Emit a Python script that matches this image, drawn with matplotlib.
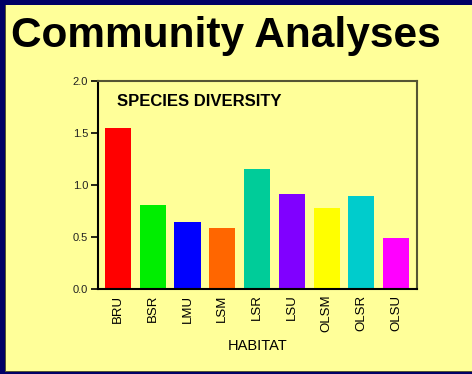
import matplotlib
matplotlib.use("Agg")
import matplotlib.pyplot as plt
from matplotlib.patches import Rectangle

plt.rcParams['font.family'] = ['Liberation Sans', 'DejaVu Sans']

habitats = ["BRU", "BSR", "LMU", "LSM", "LSR", "LSU", "OLSM", "OLSR", "OLSU"]
diversity = [1.55, 0.81, 0.645, 0.59, 1.155, 0.915, 0.78, 0.895, 0.49]
bar_colors = ["#FF0000", "#00EE00", "#0000FF", "#FF6600", "#00CC99",
              "#8000FF", "#FFFF00", "#00CCCC", "#FF00FF"]
y_ticks = [0.0, 0.5, 1.0, 1.5, 2.0]

W, H = 472, 374
fig = plt.figure(figsize=(W / 100, H / 100), dpi=100, facecolor="#000066")

# slide panel
fig.patches.append(Rectangle((5 / W, 2 / H), 1, 1 - 7 / H, transform=fig.transFigure,
                             facecolor="#555533", edgecolor="none", zorder=-2))
fig.patches.append(Rectangle((6 / W, 3.5 / H), 1, 1 - 8.5 / H, transform=fig.transFigure,
                             facecolor="#FFFF99", edgecolor="none", zorder=-1))

fig.text(11 / W, 1 - 35.5 / H, "Community Analyses", fontsize=30.5, fontweight="bold",
         color="black", ha="left", va="center")

ax = fig.add_axes([98 / W, 1 - 289 / H, (417 - 98) / W, (289 - 81) / H])
ax.set_zorder(2)
ax.set_facecolor("#FFFF99")
x = list(range(len(habitats)))
ax.bar(x, diversity, width=0.75, color=bar_colors, edgecolor="none")
ax.set_xlim(-0.575, 8.6)
ax.set_ylim(0, 2.0)
ax.set_yticks(y_ticks)
ax.set_yticklabels([f"{v:.1f}" for v in y_ticks], fontsize=8, color="#222222")
ax.set_xticks(x)
ax.set_xticklabels(habitats, rotation=90, fontsize=9.5)
ax.tick_params(axis="x", length=0, pad=4)
ax.tick_params(axis="y", length=5, width=1.2, direction="out", pad=2)
for side in ["left", "bottom"]:
    ax.spines[side].set_linewidth(1.5)
    ax.spines[side].set_color("black")
for side in ["top", "right"]:
    ax.spines[side].set_linewidth(1.5)
    ax.spines[side].set_color("#555533")

fig.text(117 / W, 1 - 102 / H, "SPECIES DIVERSITY", fontsize=12, fontweight="bold",
         ha="left", va="center", zorder=3)
fig.text(257.5 / W, 1 - 346 / H, "HABITAT", fontsize=10.5, ha="center", va="center")

fig.savefig("out.png", dpi=100, facecolor=fig.get_facecolor())
